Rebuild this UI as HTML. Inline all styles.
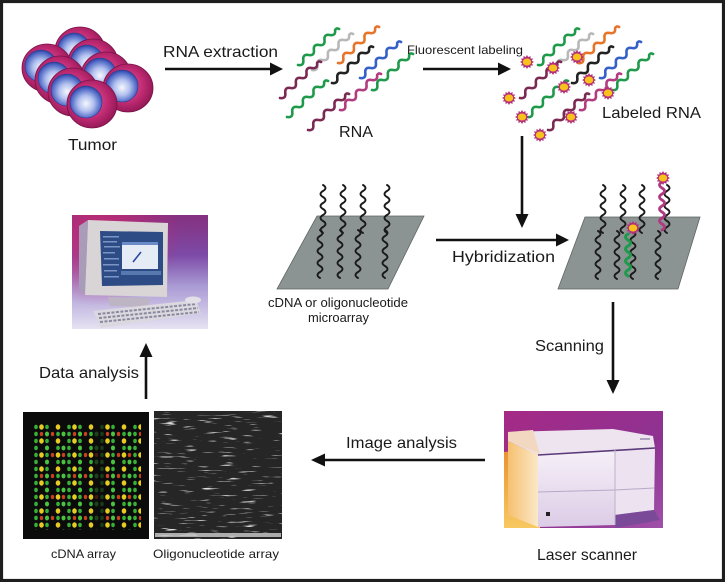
<!DOCTYPE html>
<html><head><meta charset="utf-8"><style>
html,body{margin:0;padding:0;background:#fff}
svg{display:block}
text{font-family:"Liberation Sans",Arial,sans-serif;fill:#1a1a1a}
</style></head><body>
<svg xmlns="http://www.w3.org/2000/svg" width="725" height="582" viewBox="0 0 725 582">
<defs>
<radialGradient id="mag" cx="45%" cy="45%" r="60%"><stop offset="0" stop-color="#e0609c"/><stop offset="0.6" stop-color="#c02a72"/><stop offset="1" stop-color="#8c1652"/></radialGradient>
<radialGradient id="blu" cx="50%" cy="55%" r="55%"><stop offset="0" stop-color="#f6f8ff"/><stop offset="0.45" stop-color="#b0bfee"/><stop offset="0.85" stop-color="#4d66c4"/><stop offset="1" stop-color="#2c3f9c"/></radialGradient>
<g id="cell"><ellipse rx="25" ry="24" fill="url(#mag)" stroke="#7a1048" stroke-width="0.8"/><circle cx="-6" cy="-2" r="16" fill="url(#blu)" stroke="#2a3a90" stroke-width="0.6"/></g>
<g id="star"><polygon points="7,0 4.83,1.29 6.06,3.5 3.54,3.54 3.5,6.06 1.29,4.83 0,7 -1.29,4.83 -3.5,6.06 -3.54,3.54 -6.06,3.5 -4.83,1.29 -7,0 -4.83,-1.29 -6.06,-3.5 -3.54,-3.54 -3.5,-6.06 -1.29,-4.83 0,-7 1.29,-4.83 3.5,-6.06 3.54,-3.54 6.06,-3.5 4.83,-1.29" fill="#b3307a"/><ellipse rx="4.2" ry="3.5" fill="#f7c21c"/></g>
<linearGradient id="compbg" x1="0" y1="0" x2="0" y2="1"><stop offset="0" stop-color="#86307f"/><stop offset="0.35" stop-color="#7c4aa6"/><stop offset="0.62" stop-color="#a99ad4"/><stop offset="1" stop-color="#e6e2f2"/></linearGradient>
<radialGradient id="compmag" cx="0.2" cy="0.2" r="0.6"><stop offset="0" stop-color="#d02a70" stop-opacity="0.9"/><stop offset="1" stop-color="#d02a70" stop-opacity="0"/></radialGradient>
<linearGradient id="scanbg" x1="0" y1="0" x2="1" y2="1"><stop offset="0" stop-color="#a62a86"/><stop offset="0.6" stop-color="#8e3292"/><stop offset="1" stop-color="#a050a8"/></linearGradient>
<linearGradient id="orng" x1="0" y1="0" x2="0" y2="1"><stop offset="0" stop-color="#e89030"/><stop offset="1" stop-color="#f8c860"/></linearGradient>
<linearGradient id="sideg" x1="0" y1="0" x2="1" y2="0"><stop offset="0" stop-color="#f6c070"/><stop offset="1" stop-color="#fbe8c8"/></linearGradient>
<linearGradient id="frontg" x1="0" y1="0" x2="0" y2="1"><stop offset="0" stop-color="#f6f0f8"/><stop offset="1" stop-color="#dccce6"/></linearGradient>
<pattern id="pg" width="11" height="7" patternUnits="userSpaceOnUse" x="33" y="424"><ellipse cx="3" cy="3" rx="1.8" ry="2.2" fill="#38b038"/></pattern>
<pattern id="py" width="16.5" height="14" patternUnits="userSpaceOnUse" x="38.5" y="424"><ellipse cx="3" cy="3" rx="2.3" ry="2.7" fill="#e6cc22"/></pattern>
<pattern id="pr" width="11" height="21" patternUnits="userSpaceOnUse" x="38.5" y="431"><ellipse cx="3" cy="3" rx="1.7" ry="2.1" fill="#c8401e"/></pattern>
<pattern id="pg2" width="16.5" height="14" patternUnits="userSpaceOnUse" x="44" y="431"><ellipse cx="3" cy="3" rx="2" ry="2.4" fill="#48c440"/></pattern>
<filter id="streak" x="0" y="0" width="1" height="1"><feTurbulence type="fractalNoise" baseFrequency="0.05 0.6" numOctaves="2" seed="4"/><feColorMatrix type="matrix" values="0 0 0 0 1 0 0 0 0 1 0 0 0 0 1 7 0 0 0 -4.5"/></filter>
</defs>

<rect x="0" y="0" width="725" height="582" fill="#fff"/>
<rect x="1.5" y="1.5" width="722" height="579" fill="none" stroke="#1e1e1e" stroke-width="3.2"/>

<!-- Tumor -->
<use href="#cell" x="80" y="51"/>
<use href="#cell" x="47" y="68"/>
<use href="#cell" x="93" y="63"/>
<use href="#cell" x="60" y="80"/>
<use href="#cell" x="106" y="76"/>
<use href="#cell" x="73" y="92"/>
<use href="#cell" x="128" y="88"/>
<use href="#cell" x="92" y="104"/>
<text x="68" y="150" font-size="16" textLength="49" lengthAdjust="spacingAndGlyphs">Tumor</text>

<!-- RNA extraction arrow -->
<text x="163" y="57" font-size="16" textLength="115" lengthAdjust="spacingAndGlyphs">RNA extraction</text>
<line x1="165" y1="69" x2="271" y2="69" stroke="#111" stroke-width="2.6"/>
<polygon points="283,69 270,62.5 270,75.5" fill="#111"/>

<!-- RNA strands -->
<g fill="none" stroke-width="2.6" stroke-linecap="round" stroke-linejoin="round">
<g id="rna">
<path d="M298 65 q6 1.1 5.3 -5 t5.3 -5 t5.3 -5 t5.3 -5 t5.3 -5 t5.3 -5 t5.3 -5 q1.5 -2.5 4 -1" stroke="#1f9a4b"/>
<path d="M312 70 q6 1.1 5.3 -5 t5.3 -5 t5.3 -5 t5.3 -5 t5.3 -5 t5.3 -5 t5.3 -5 q1.5 -2.5 4 -1" stroke="#b8b8b8"/>
<path d="M338 63 q6 1.1 5.3 -5 t5.3 -5 t5.3 -5 t5.3 -5 t5.3 -5 t5.3 -5 t5.3 -5 q1.5 -2.5 4 -1" stroke="#e8742a"/>
<path d="M332 83 q6 1.1 5.3 -5 t5.3 -5 t5.3 -5 t5.3 -5 t5.3 -5 t5.3 -5 t5.3 -5 q1.5 -2.5 4 -1" stroke="#222"/>
<path d="M360 78 q6 1.1 5.3 -5 t5.3 -5 t5.3 -5 t5.3 -5 t5.3 -5 t5.3 -5 t5.3 -5 q1.5 -2.5 4 -1" stroke="#3560c8"/>
<path d="M280 98 q6 1.1 5.3 -5 t5.3 -5 t5.3 -5 t5.3 -5 t5.3 -5 t5.3 -5 t5.3 -5 q1.5 -2.5 4 -1" stroke="#7a2a52"/>
<path d="M287 117 q6 1.1 5.3 -5 t5.3 -5 t5.3 -5 t5.3 -5 t5.3 -5 t5.3 -5 t5.3 -5 q1.5 -2.5 4 -1" stroke="#1f9a4b"/>
<path d="M372 90 q6 1.1 5.3 -5 t5.3 -5 t5.3 -5 t5.3 -5 t5.3 -5 t5.3 -5 t5.3 -5 q1.5 -2.5 4 -1" stroke="#1f9a4b"/>
<path d="M308 130 q6 1.1 5.3 -5 t5.3 -5 t5.3 -5 t5.3 -5 t5.3 -5 t5.3 -5 t5.3 -5 q1.5 -2.5 4 -1" stroke="#7a2a52"/>
<path d="M340 110 q6 1.1 5.3 -5 t5.3 -5 t5.3 -5 t5.3 -5 t5.3 -5 t5.3 -5 t5.3 -5 q1.5 -2.5 4 -1" stroke="#b23c80"/>
</g>
<use href="#rna" x="240" y="0"/>
</g>
<text x="339" y="137" font-size="16" textLength="34" lengthAdjust="spacingAndGlyphs">RNA</text>

<!-- stars on labeled RNA -->
<use href="#star" x="527" y="62"/>
<use href="#star" x="553" y="68"/>
<use href="#star" x="577" y="57"/>
<use href="#star" x="509" y="98"/>
<use href="#star" x="564" y="87"/>
<use href="#star" x="589" y="80"/>
<use href="#star" x="608" y="93"/>
<use href="#star" x="522" y="117"/>
<use href="#star" x="571" y="117"/>
<use href="#star" x="540" y="135"/>
<text x="602" y="118" font-size="16" textLength="99" lengthAdjust="spacingAndGlyphs">Labeled RNA</text>

<!-- Fluorescent labeling arrow -->
<text x="407" y="54" font-size="12" textLength="116" lengthAdjust="spacingAndGlyphs">Fluorescent labeling</text>
<line x1="423" y1="69" x2="499" y2="69" stroke="#111" stroke-width="2.6"/>
<polygon points="511,69 498,62.5 498,75.5" fill="#111"/>

<!-- down arrow to hybridized -->
<line x1="522" y1="136" x2="522" y2="215" stroke="#111" stroke-width="2.6"/>
<polygon points="522,228 515.5,214 528.5,214" fill="#111"/>

<!-- left microarray -->
<polygon points="317,216 424,216 388,289 277,289" fill="#8b9492" stroke="#5f6664" stroke-width="0.8"/>
<g fill="none" stroke="#1a1a1a" stroke-width="1.9" stroke-linecap="round">
<path d="M323 185 q5 3 0 6 t0 6 t0 6 t0 6 t0 6 t0 6 t0 6 t0 6"/>
<path d="M343 185 q5 3 0 6 t0 6 t0 6 t0 6 t0 6 t0 6 t0 6 t0 6"/>
<path d="M363 185 q5 3 0 6 t0 6 t0 6 t0 6 t0 6 t0 6 t0 6 t0 6"/>
<path d="M387 185 q5 3 0 6 t0 6 t0 6 t0 6 t0 6 t0 6 t0 6 t0 6"/>
<path d="M320 230 q5 3 0 6 t0 6 t0 6 t0 6 t0 6 t0 6 t0 6 t0 6"/>
<path d="M340 230 q5 3 0 6 t0 6 t0 6 t0 6 t0 6 t0 6 t0 6 t0 6"/>
<path d="M358 230 q5 3 0 6 t0 6 t0 6 t0 6 t0 6 t0 6 t0 6 t0 6"/>
<path d="M385 230 q5 3 0 6 t0 6 t0 6 t0 6 t0 6 t0 6 t0 6 t0 6"/>
</g>
<text x="268" y="307" font-size="12.5" textLength="140" lengthAdjust="spacingAndGlyphs">cDNA or oligonucleotide</text>
<text x="308" y="322" font-size="12.5" textLength="61" lengthAdjust="spacingAndGlyphs">microarray</text>

<!-- Hybridization arrow -->
<line x1="436" y1="240" x2="556" y2="240" stroke="#111" stroke-width="2.6"/>
<polygon points="569,240 556,233.5 556,246.5" fill="#111"/>
<text x="452" y="262" font-size="16" textLength="103" lengthAdjust="spacingAndGlyphs">Hybridization</text>

<!-- right microarray -->
<polygon points="585,217 700,217 678,289 558,289" fill="#8b9492" stroke="#5f6664" stroke-width="0.8"/>
<g fill="none" stroke="#1a1a1a" stroke-width="1.9" stroke-linecap="round">
<path d="M603 185 q5 3 0 6 t0 6 t0 6 t0 6 t0 6 t0 6 t0 6 t0 6"/>
<path d="M623 185 q5 3 0 6 t0 6 t0 6 t0 6 t0 6 t0 6 t0 6 t0 6"/>
<path d="M642 185 q5 3 0 6 t0 6 t0 6 t0 6 t0 6 t0 6 t0 6 t0 6"/>
<path d="M667 185 q5 3 0 6 t0 6 t0 6 t0 6 t0 6 t0 6 t0 6 t0 6"/>
<path d="M598 231 q5 3 0 6 t0 6 t0 6 t0 6 t0 6 t0 6 t0 6 t0 6"/>
<path d="M617 231 q5 3 0 6 t0 6 t0 6 t0 6 t0 6 t0 6 t0 6 t0 6"/>
<path d="M633 231 q5 3 0 6 t0 6 t0 6 t0 6 t0 6 t0 6 t0 6 t0 6"/>
<path d="M658 231 q5 3 0 6 t0 6 t0 6 t0 6 t0 6 t0 6 t0 6 t0 6"/>
</g>
<path d="M662 182 q-5 3 0 6 t0 6 t0 6 t0 6 t0 6 t0 6 t0 6 t0 6" fill="none" stroke="#b03a82" stroke-width="2.8" stroke-linecap="round"/>
<path d="M628 234 q-5 3 0 6 t0 6 t0 6 t0 6 t0 6 t0 6 t0 6" fill="none" stroke="#1f9a4b" stroke-width="3" stroke-linecap="round"/>
<use href="#star" x="663" y="178"/>
<use href="#star" x="633" y="228"/>

<!-- Scanning arrow -->
<line x1="613" y1="302" x2="613" y2="381" stroke="#111" stroke-width="2.6"/>
<polygon points="613,394 606.5,380 619.5,380" fill="#111"/>
<text x="535" y="351" font-size="16" textLength="69" lengthAdjust="spacingAndGlyphs">Scanning</text>

<!-- Laser scanner photo -->
<rect x="504" y="411" width="159" height="117" fill="url(#scanbg)"/>
<polygon points="504,452 540,448 540,528 504,528" fill="url(#orng)"/>
<polygon points="508,432 613,429 653,436 655,448 538,455 508,441" fill="#ede4ef"/>
<polygon points="508,432 533,430 540,454 508,441" fill="#f2d8c0"/>
<polygon points="508,441 538,455 538,527 508,515" fill="url(#sideg)"/>
<polygon points="538,455 615,450 615,525 538,527" fill="url(#frontg)"/>
<polygon points="615,450 655,448 654,510 615,515" fill="#ece2f0"/>
<polygon points="615,515 654,510 660,520 615,528" fill="#7a4a98"/>
<line x1="538" y1="455" x2="655" y2="448" stroke="#5a3a78" stroke-width="1.6"/>
<line x1="538" y1="492" x2="615" y2="490" stroke="#b8a8c8" stroke-width="1"/>
<line x1="615" y1="490" x2="654" y2="488" stroke="#b8a8c8" stroke-width="1"/>
<line x1="615" y1="450" x2="615" y2="525" stroke="#c0b0cc" stroke-width="1"/>
<rect x="546" y="512" width="4" height="4" fill="#222"/>
<rect x="640" y="438" width="10" height="2" fill="#b0a0c0"/>
<text x="537" y="560" font-size="16" textLength="100" lengthAdjust="spacingAndGlyphs">Laser scanner</text>

<!-- Image analysis arrow -->
<line x1="324" y1="460" x2="485" y2="460" stroke="#111" stroke-width="2.6"/>
<polygon points="311,460 325,453.5 325,466.5" fill="#111"/>
<text x="346" y="448" font-size="16" textLength="111" lengthAdjust="spacingAndGlyphs">Image analysis</text>

<!-- cDNA array -->
<rect x="23" y="412" width="126" height="127" fill="#0b0b0b"/>
<rect x="33" y="424" width="108" height="106" fill="url(#pg)"/>
<rect x="33" y="424" width="108" height="106" fill="url(#pr)"/>
<rect x="33" y="424" width="108" height="106" fill="url(#py)"/>
<rect x="33" y="424" width="108" height="106" fill="url(#pg2)"/>
<rect x="94" y="424" width="10" height="106" fill="#0b0b0b" opacity="0.7"/>
<text x="51" y="558" font-size="12" textLength="65" lengthAdjust="spacingAndGlyphs">cDNA array</text>

<!-- Oligonucleotide array -->
<rect x="154" y="411" width="128" height="128" fill="#262626"/>
<rect x="154" y="411" width="128" height="128" filter="url(#streak)" opacity="0.85"/>
<rect x="155" y="533" width="126" height="4" fill="#cfcfcf" opacity="0.8"/>
<text x="153" y="558" font-size="12" textLength="126" lengthAdjust="spacingAndGlyphs">Oligonucleotide array</text>

<!-- Data analysis arrow -->
<line x1="146" y1="356" x2="146" y2="399" stroke="#111" stroke-width="2.6"/>
<polygon points="146,343 139.5,357 152.5,357" fill="#111"/>
<text x="39" y="378" font-size="16" textLength="100" lengthAdjust="spacingAndGlyphs">Data analysis</text>

<!-- Computer photo -->
<rect x="72" y="215" width="136" height="114" fill="url(#compbg)"/>
<rect x="72" y="215" width="136" height="114" fill="url(#compmag)"/>
<polygon points="79,226 88,220 85,295 79,289" fill="#a89cb8"/>
<polygon points="88,220 168,223 167,297 85,295" fill="#d9d4d6"/>
<polygon points="100,231 163,232 163,285 102,286" fill="#2d4c86"/>
<g fill="#8fa8d8" opacity="0.8">
<rect x="103" y="236" width="16" height="1.5"/><rect x="103" y="241" width="14" height="1.5"/>
<rect x="104" y="246" width="16" height="1.5"/><rect x="103" y="252" width="12" height="1.5"/>
<rect x="104" y="258" width="15" height="1.5"/><rect x="103" y="264" width="16" height="1.5"/>
<rect x="104" y="270" width="13" height="1.5"/><rect x="104" y="276" width="15" height="1.5"/>
</g>
<rect x="122" y="242" width="36" height="27" fill="#e6ecf6"/>
<rect x="122" y="242" width="36" height="3" fill="#6a8ac8"/>
<line x1="133" y1="262" x2="141" y2="252" stroke="#2a4aa0" stroke-width="1.6"/>
<rect x="121" y="271" width="40" height="4" fill="#5878b0"/>
<polygon points="108,297 150,298 148,307 110,306" fill="#bdb4c4"/>
<polygon points="93,311 196,300 201,313 101,328" fill="#dcd8e0"/>
<g stroke="#8a8a9e" stroke-width="2" stroke-dasharray="3 1.5">
<line x1="98" y1="314" x2="196" y2="304"/>
<line x1="99" y1="318" x2="198" y2="308"/>
<line x1="100" y1="322" x2="199" y2="312"/>
</g>
<ellipse cx="193" cy="300" rx="8" ry="3.5" fill="#e4e0e8"/>
</svg>
</body></html>
